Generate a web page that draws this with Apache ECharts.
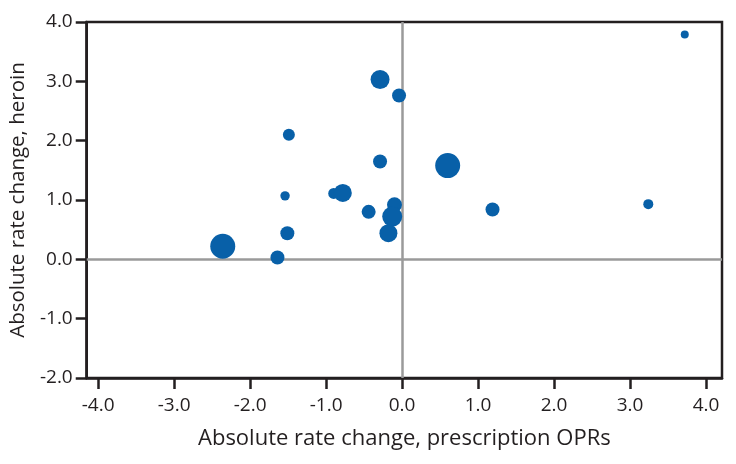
<!DOCTYPE html>
<html>
<head>
<meta charset="utf-8">
<script src="https://cdn.jsdelivr.net/npm/echarts@6/dist/echarts.min.js"></script>
<style>html,body{margin:0;padding:0;background:#fff}#c{width:736px;height:464px}</style>
</head>
<body>
<div id="c"></div>
<script>
// Data
var xValues = [-0.29, -0.04, -1.49, -0.29, 0.60, -1.54, -0.90, -0.78, -0.44, -0.10, -0.13, -0.18, -1.51, -2.36, -1.64, 3.72, 1.19, 3.24];
var yValues = [3.03, 2.76, 2.10, 1.65, 1.58, 1.07, 1.11, 1.12, 0.80, 0.92, 0.72, 0.44, 0.44, 0.22, 0.03, 3.79, 0.84, 0.93];
var bubbleValue = [90, 49, 36, 49, 156, 22, 30, 81, 49, 56, 100, 81, 49, 156, 49, 16, 49, 25];
var xTickLabels = [-4, -3, -2, -1, 0, 1, 2, 3, 4];
var yTickLabels = [-2, -1, 0, 1, 2, 3, 4];

var pts = xValues.map(function (x, i) { return [x, yValues[i], bubbleValue[i]]; });
var font = '"Open Sans", "Noto Sans", sans-serif';
var ink = '#231f20';
var chart = echarts.init(document.getElementById('c'));
chart.setOption({
  animation: false,
  grid: { left: 83, right: 14, top: 22, bottom: 86, show: true, borderColor: ink, borderWidth: 2.5, backgroundColor: 'transparent' },
  xAxis: {
    type: 'value', min: -4.15, max: 4.21,
    name: 'Absolute rate change, prescription OPRs', nameLocation: 'middle', nameGap: 50,
    nameTextStyle: { fontFamily: font, fontSize: 22, color: ink },
    axisLine: { show: true, onZero: false, lineStyle: { color: ink, width: 2.5 } },
    axisTick: { show: true, inside: false, length: 11, customValues: xTickLabels, lineStyle: { color: ink, width: 2.5 } },
    axisLabel: { customValues: xTickLabels, margin: 18, fontFamily: font, fontSize: 19, color: ink, formatter: function (v) { return v.toFixed(1); } },
    splitLine: { show: false }
  },
  yAxis: {
    type: 'value', min: -2, max: 4, interval: 1,
    name: 'Absolute rate change, heroin', nameLocation: 'middle', nameGap: 53,
    nameTextStyle: { fontFamily: font, fontSize: 20.5, color: ink },
    axisLine: { show: true, onZero: false, lineStyle: { color: ink, width: 2.5 } },
    axisTick: { show: true, inside: false, length: 11, lineStyle: { color: ink, width: 2.5 } },
    axisLabel: { customValues: yTickLabels, margin: 14, fontFamily: font, fontSize: 19, color: ink, formatter: function (v) { return v.toFixed(1); } },
    splitLine: { show: false }
  },
  series: [{
    type: 'scatter',
    data: pts,
    symbolSize: function (d) { return 2 * Math.sqrt(d[2]); },
    itemStyle: { color: '#0860a8', opacity: 1 },
    markLine: {
      silent: true, symbol: 'none', label: { show: false },
      lineStyle: { color: '#9a9a9a', width: 2.5, type: 'solid' },
      data: [{ xAxis: 0 }, { yAxis: 0 }],
      z: 1
    },
    z: 3
  }]
});
</script>
</body>
</html>
